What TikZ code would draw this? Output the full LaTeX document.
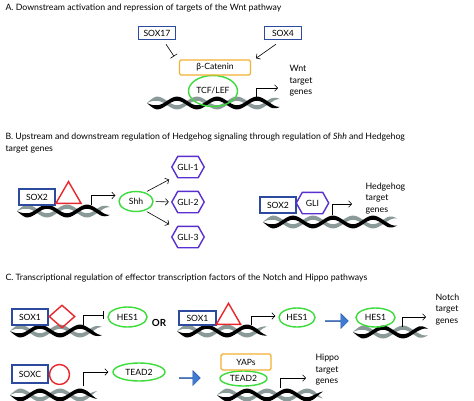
\documentclass[tikz,border=0pt]{standalone}
\usepackage{fontspec}
\setmainfont{Lato}
\usetikzlibrary{arrows.meta,shapes.geometric,shapes.arrows}

\definecolor{soxblue}{HTML}{2C4A9E}
\definecolor{tfgreen}{HTML}{3CDC3C}
\definecolor{caborange}{HTML}{F2B233}
\definecolor{soxred}{HTML}{E8262B}
\definecolor{glipurple}{HTML}{5A2FD0}
\definecolor{arrowblue}{HTML}{3E7BD6}
\definecolor{dnagray}{HTML}{8A9A98}

% one strand of the double helix: x0, x1, y, phase, colour
\newcommand{\dnastrand}[5]{%
  \fill[#5] plot[domain=#1:#2, samples=70, smooth, variable=\x]
      (\x, {#3 + 4.3*sin(9*(\x-#1)+#4) + 2.1*min(1,(\x-#1)/9,(#2-\x)/9)})
    -- plot[domain=#2:#1, samples=70, smooth, variable=\x]
      (\x, {#3 + 4.3*sin(9*(\x-#1)+#4) - 2.1*min(1,(\x-#1)/9,(#2-\x)/9)}) -- cycle;}
\newcommand{\dna}[3]{\dnastrand{#1}{#2}{#3}{180}{dnagray}\dnastrand{#1}{#2}{#3}{0}{black}}
% GLI hexagon round a named node
\newcommand{\glihex}[3]{%
  \node[glitext] (#1) at (#2) {#3};
  \draw[glipurple, line width=1.4pt, line join=round] (#1.west) -- ([xshift=6pt]#1.north west) -- ([xshift=-6pt]#1.north east)
    -- (#1.east) -- ([xshift=-6pt]#1.south east) -- ([xshift=6pt]#1.south west) -- cycle;}

\begin{document}
\begin{tikzpicture}[x=1pt, y=-1pt,
        title/.style={anchor=west, align=left, font=\fontsize{8.75}{12}\selectfont},
        sox/.style={draw=soxblue, line width=1.4pt, minimum width=36pt, minimum height=14pt, inner sep=0pt, font=\fontsize{8.6}{9}\selectfont},
        tf/.style={ellipse, draw=tfgreen, line width=1.4pt, inner sep=0pt, font=\fontsize{8.6}{9}\selectfont},
        cofactor/.style={draw=caborange, line width=1.4pt, rounded corners=1.5pt, inner sep=0pt, font=\fontsize{8.6}{9}\selectfont},
        glitext/.style={minimum width=32pt, minimum height=21pt, inner sep=0pt, font=\fontsize{8.6}{9}\selectfont},
        partner/.style={draw=soxred, line width=1.4pt, inner sep=0pt},
        genes/.style={anchor=west, align=left, font=\fontsize{8.8}{11.5}\selectfont},
        act/.style={-{Straight Barb[length=3pt, width=6.5pt]}, semithick},
        inhib/.style={-{Bar[width=8pt]}, semithick},
        bigarrow/.style={single arrow, fill=arrowblue, draw=arrowblue!70!black, minimum height=23pt, minimum width=15pt, single arrow head extend=2.5pt, inner sep=0pt},
    ]
    \path[fill=white, use as bounding box] (0,0) rectangle (474,400);

    % A. Wnt
    \node[title] (titleA) at (2,8) {A. Downstream activation and repression of targets of the Wnt pathway};
    \node[sox, minimum width=37pt, minimum height=13pt] (sox17) at (157,33) {SOX17};
    \node[sox, minimum width=37pt, minimum height=13pt] (sox4) at (283,33) {SOX4};
    \dna{147}{280}{103}
    \node[tf, minimum width=49pt, minimum height=31pt] (tcf) at (213,91) {TCF/LEF};
    \node[cofactor, minimum width=71pt, minimum height=15pt] (bcat) at (215,67.5) {β-Catenin};
    \draw[inhib] ([xshift=9pt, yshift=-4pt]sox17.south) -- ([xshift=-41pt, yshift=3pt]bcat.north);
    \draw[act] ([xshift=-7pt, yshift=-4pt]sox4.south) -- ([xshift=41pt, yshift=1pt]bcat.north);
    \coordinate (pA) at (256,99);
    \coordinate (pAend) at (278,88);
    \draw[act] (pA) |- (pAend);
    \node[genes] (wnt) at (286,81) {Wnt\\target\\genes};

    % B. Hedgehog
    \node[title] (titleB) at (2,143) {B. Upstream and downstream regulation of Hedgehog signaling through regulation of \textit{Shh} and Hedgehog\\target genes};
    \dna{17}{110}{211}
    \node[sox, minimum height=16pt] (sox2a) at (37,197) {SOX2};
    \node[partner, regular polygon, regular polygon sides=3, minimum size=29pt, anchor=south] (triB) at (68.5,204) {};
    \node[tf, minimum width=34pt, minimum height=20pt] (shh) at (136,201.5) {Shh};
    \glihex{gli1}{188,167}{GLI-1}
    \glihex{gli2}{188,202}{GLI-2}
    \glihex{gli3}{188,237}{GLI-3}
    \coordinate (pB) at (91,205);
    \draw[act, shorten >=3pt] (pB) |- ([yshift=6pt]shh.west);
    \draw[act, shorten <=2pt, shorten >=4pt] (shh.45) -- (gli1.215);
    \draw[act, shorten <=2pt, shorten >=3pt] (shh.east) -- (gli2.west);
    \draw[act, shorten <=2pt, shorten >=4pt] (shh.-45) -- (gli3.145);

    \dna{263}{397}{222}
    \node[sox, minimum height=16pt] (sox2b) at (278,205) {SOX2};
    \glihex{gliB}{312.5,203}{GLI}
    \coordinate (pB2) at (332,215);
    \coordinate (pB2end) at (352,204);
    \draw[act] (pB2) |- (pB2end);
    \node[genes] (hh) at (362,198.5) {Hedgehog\\target\\genes};

    % C. Notch and Hippo
    \node[title] (titleC) at (2,278) {C. Transcriptional regulation of effector transcription factors of the Notch and Hippo pathways};
    \dna{10}{102}{331}
    \node[sox, minimum height=16pt] (sox1a) at (30,317) {SOX1};
    \node[partner, diamond, minimum width=26pt, minimum height=23pt] (dia) at (62,316.5) {};
    \node[tf, minimum width=39pt, minimum height=20pt] (hes1a) at (127.5,317) {HES1};
    \coordinate (pC1) at (83,325);
    \draw[inhib, shorten >=4pt] (pC1) |- ([yshift=2pt]hes1a.west);
    \node[font=\bfseries\fontsize{9.8}{11}\selectfont] (or) at (159,323) {OR};

    \dna{177}{267}{331}
    \node[sox, minimum width=37pt] (sox1b) at (197.5,318) {SOX1};
    \node[partner, regular polygon, regular polygon sides=3, minimum size=28pt, anchor=south] (triC) at (228.5,325) {};
    \node[tf, minimum width=36pt, minimum height=19pt] (hes1b) at (297,317.5) {HES1};
    \coordinate (pC2) at (251,325);
    \draw[act, shorten >=3pt] (pC2) |- ([yshift=1.5pt]hes1b.west);
    \node[bigarrow] (big1) at (336.5,321) {};

    \dna{353}{428}{332}
    \node[tf, minimum width=39pt, minimum height=19pt] (hes1c) at (375.5,317.5) {HES1};
    \coordinate (pC3) at (402,327);
    \coordinate (pC3end) at (426,317);
    \draw[act] (pC3) |- (pC3end);
    \node[genes] (notch) at (432,309.5) {Notch\\target\\genes};

    \dna{10}{97}{395}
    \node[sox, minimum height=18pt] (soxc) at (30,374) {SOXC};
    \node[partner, circle, minimum size=20pt] (circ) at (59.5,374.5) {};
    \node[tf, minimum width=52pt, minimum height=18pt] (tead2a) at (139,372) {TEAD2};
    \coordinate (pC4) at (83,386);
    \draw[act, shorten >=4pt] (pC4) |- (tead2a.west);
    \node[bigarrow, minimum height=21pt] (big2) at (189.5,378) {};

    \dna{217}{323}{395}
    \node[tf, minimum width=47pt, minimum height=15pt] (tead2b) at (243.5,378.5) {TEAD2};
    \node[cofactor, minimum width=50pt, minimum height=16pt] (yaps) at (246,362) {YAPs};
    \coordinate (pC5) at (280,388);
    \coordinate (pC5end) at (306,378);
    \draw[act] (pC5) |- (pC5end);
    \node[genes] (hippo) at (312,370) {Hippo\\target\\genes};
\end{tikzpicture}
\end{document}
